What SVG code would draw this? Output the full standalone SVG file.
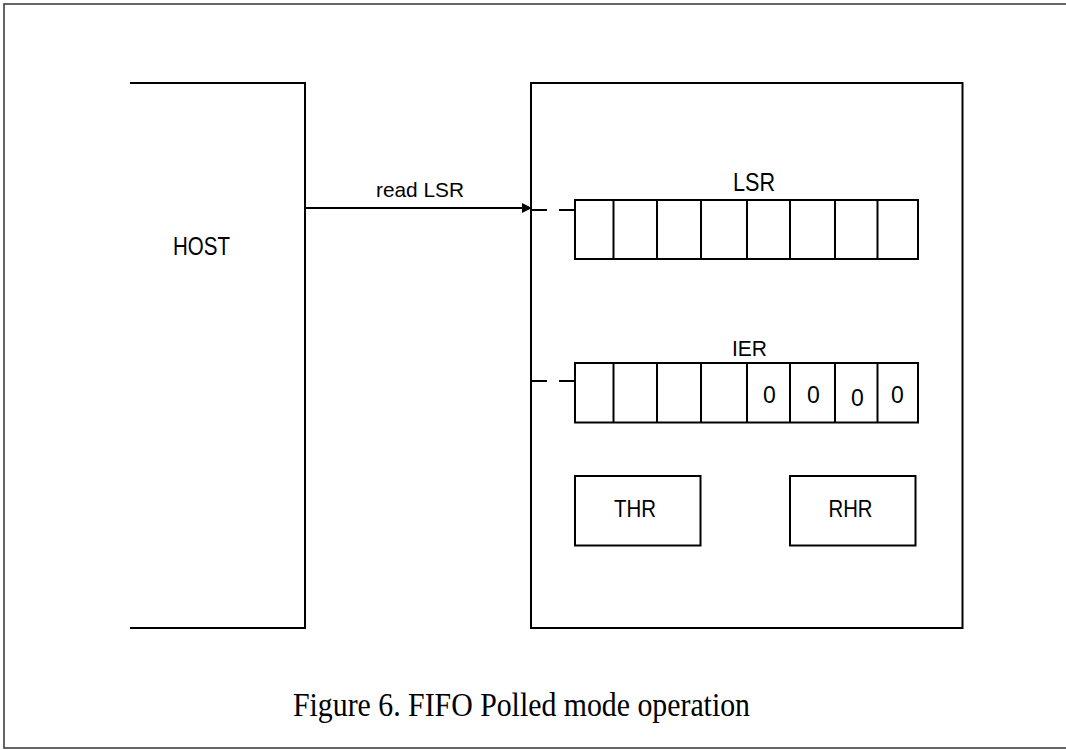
<svg xmlns="http://www.w3.org/2000/svg" width="1066" height="750" viewBox="0 0 1066 750">
<defs>
<style>
.ln{fill:none;stroke:#000;stroke-width:2}
.bx{fill:#fff;stroke:#000;stroke-width:2}
.dash{fill:none;stroke:#000;stroke-width:2}
.s{font-family:"Liberation Sans",Arial,sans-serif;fill:#000}
.z{font-family:"Liberation Sans",Arial,sans-serif;fill:#000;font-size:23px}
.cap{font-family:"Liberation Serif","Times New Roman",serif;fill:#000}
</style>
<marker id="ah" markerWidth="10" markerHeight="10" refX="9" refY="5" orient="auto" markerUnits="userSpaceOnUse">
<path d="M0,0 L10,5 L0,10 Z" fill="#000"/>
</marker>
</defs>
<rect x="0" y="0" width="1066" height="750" fill="#fff"/>
<path d="M1068,4 H4 V748 H1068" fill="none" stroke="#333" stroke-width="1.5"/>

<g id="host">
<path class="ln" d="M130,83 H305 V628 H130"/>
<text class="s" x="173" y="255" font-size="25" textLength="57" lengthAdjust="spacingAndGlyphs">HOST</text>
</g>

<g id="device">
<rect class="ln" x="531" y="83" width="431.5" height="545"/>
</g>

<g id="lsr">
<text class="s" x="733" y="191" font-size="25" textLength="42" lengthAdjust="spacingAndGlyphs">LSR</text>
<rect class="bx" x="575" y="200" width="343" height="59"/>
<path class="ln" d="M613.5,200 V259 M657,200 V259 M701,200 V259 M747,200 V259 M790,200 V259 M835,200 V259 M877.5,200 V259"/>
</g>

<g id="ier">
<text class="s" x="732" y="356" font-size="22" textLength="35" lengthAdjust="spacingAndGlyphs">IER</text>
<rect class="bx" x="575" y="363" width="343" height="59.5"/>
<path class="ln" d="M613.5,363 V422.5 M657,363 V422.5 M701,363 V422.5 M747,363 V422.5 M790,363 V422.5 M835,363 V422.5 M877.5,363 V422.5"/>
<text class="z" x="763" y="403">0</text>
<text class="z" x="807" y="403">0</text>
<text class="z" x="851" y="405.5">0</text>
<text class="z" x="891" y="403">0</text>
</g>

<g id="thr">
<rect class="bx" x="575" y="476" width="125.5" height="69.5"/>
<text class="s" x="614" y="517" font-size="24" textLength="42" lengthAdjust="spacingAndGlyphs">THR</text>
</g>

<g id="rhr">
<rect class="bx" x="790" y="476" width="125.5" height="69.5"/>
<text class="s" x="828.5" y="517" font-size="24" textLength="44" lengthAdjust="spacingAndGlyphs">RHR</text>
</g>

<g id="connectors">
<line class="ln" x1="305" y1="208" x2="531" y2="208" marker-end="url(#ah)"/>
<text class="s" x="376" y="196.5" font-size="21" textLength="88" lengthAdjust="spacingAndGlyphs">read LSR</text>
<path class="dash" d="M531,210 H547 M559,210 H575"/>
<path class="dash" d="M531,381 H547 M559,381 H575"/>
</g>

<text class="cap" x="293" y="716" font-size="33" textLength="457" lengthAdjust="spacingAndGlyphs">Figure 6. FIFO Polled mode operation</text>
</svg>
